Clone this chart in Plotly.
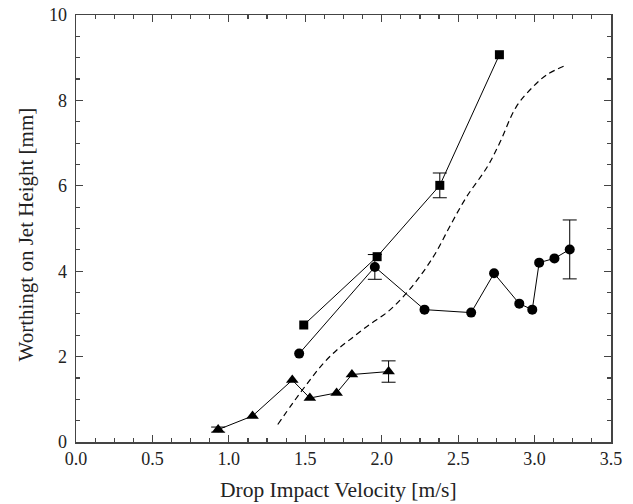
import plotly.graph_objects as go

# Series: squares
sq_x = [1.49, 1.97, 2.38, 2.77]
sq_y = [2.74, 4.34, 6.01, 9.07]
sq_err = [0.0, 0.0, 0.29, 0.0]

# Series: circles
ci_x = [1.46, 1.955, 2.28, 2.585, 2.735, 2.90, 2.985, 3.03, 3.13, 3.23]
ci_y = [2.07, 4.10, 3.10, 3.03, 3.95, 3.24, 3.10, 4.20, 4.30, 4.51]
ci_err = [0.0, 0.29, 0.0, 0.0, 0.0, 0.0, 0.0, 0.0, 0.0, 0.69]

# Series: triangles
tr_x = [0.93, 1.155, 1.415, 1.53, 1.705, 1.805, 2.045]
tr_y = [0.29, 0.61, 1.45, 1.03, 1.15, 1.58, 1.65]
tr_err = [0.06, 0.0, 0.0, 0.0, 0.0, 0.0, 0.25]

# Dashed curve
cv_x = [1.32, 1.42, 1.53, 1.62, 1.705, 1.80, 1.92, 2.04, 2.14, 2.24, 2.35, 2.45,
        2.555, 2.69, 2.77, 2.88, 2.99, 3.08, 3.19]
cv_y = [0.41, 0.92, 1.45, 1.85, 2.15, 2.42, 2.75, 3.05, 3.40, 3.83, 4.41, 5.08,
        5.74, 6.44, 6.99, 7.85, 8.32, 8.60, 8.80]

x_ticks = [0.0, 0.5, 1.0, 1.5, 2.0, 2.5, 3.0, 3.5]
x_ticktext = ["0.0", "0.5", "1.0", "1.5", "2.0", "2.5", "3.0", "3.5"]
y_ticks = [0, 2, 4, 6, 8, 10]
x_title = "Drop Impact Velocity [m/s]"
y_title = "Worthingt on Jet Height [mm]"

FONT = "Liberation Serif, Times New Roman, serif"

fig = go.Figure()

fig.add_trace(go.Scatter(
    x=cv_x, y=cv_y, mode="lines",
    line=dict(color="black", width=1.2, dash="6px,4px", shape="spline"),
    showlegend=False, hoverinfo="skip"))


def add_errors(x, y, err):
    ex = [a for a, e in zip(x, err) if e > 0]
    ey = [b for b, e in zip(y, err) if e > 0]
    ee = [e for e in err if e > 0]
    fig.add_trace(go.Scatter(
        x=ex, y=ey, mode="markers",
        marker=dict(size=1, color="black"),
        error_y=dict(type="data", array=ee, visible=True, color="black",
                     thickness=1, width=7),
        showlegend=False, hoverinfo="skip"))


def add_series(x, y, symbol, size):
    fig.add_trace(go.Scatter(
        x=x, y=y, mode="lines+markers",
        line=dict(color="black", width=1),
        marker=dict(symbol=symbol, size=size, color="black"),
        showlegend=False))


add_errors(sq_x, sq_y, sq_err)
add_errors(ci_x, ci_y, ci_err)
add_errors(tr_x, tr_y, tr_err)
add_series(sq_x, sq_y, "square", 9)
add_series(ci_x, ci_y, "circle", 10)
add_series(tr_x, tr_y, "triangle-up", 11)

axis_common = dict(
    showgrid=False, zeroline=False, showline=True, linecolor="#444",
    linewidth=1.5, mirror="ticks", ticks="inside", tickcolor="#444",
    tickwidth=1.2, ticklen=7, automargin=False, ticklabeloverflow="allow",
    tickfont=dict(family=FONT, size=18, color="#222"),
)

fig.update_xaxes(
    range=[0, 3.5], tickvals=x_ticks, ticktext=x_ticktext,
    minor=dict(dtick=0.125, ticks="inside", ticklen=4, tickcolor="#444", tickwidth=1.2),
    **axis_common)
fig.update_yaxes(
    range=[0, 10], tickvals=y_ticks, ticklabelstandoff=4,
    minor=dict(dtick=0.5, ticks="inside", ticklen=4, tickcolor="#444", tickwidth=1.2),
    **axis_common)

fig.add_annotation(
    text=x_title, xref="paper", yref="paper", x=0.5, y=0,
    xanchor="center", yanchor="middle", xshift=-5, yshift=-48,
    showarrow=False, font=dict(family=FONT, size=21.5, color="#222"))
fig.add_annotation(
    text=y_title, xref="paper", yref="paper", x=0, y=0.5,
    xanchor="center", yanchor="middle", xshift=-51, yshift=-6,
    textangle=-90, showarrow=False,
    font=dict(family=FONT, size=21, color="#222"))

fig.update_layout(
    width=633, height=504,
    margin=dict(l=76, r=22, t=15, b=62),
    plot_bgcolor="white", paper_bgcolor="white",
    hovermode=False,
)

# Remove the page's default 8px body margin so the figure fills the window.
fig.write_html("out.html",
               config={"displayModeBar": False, "staticPlot": True},
               post_script="document.body.style.margin='0';document.body.style.overflow='hidden';")
